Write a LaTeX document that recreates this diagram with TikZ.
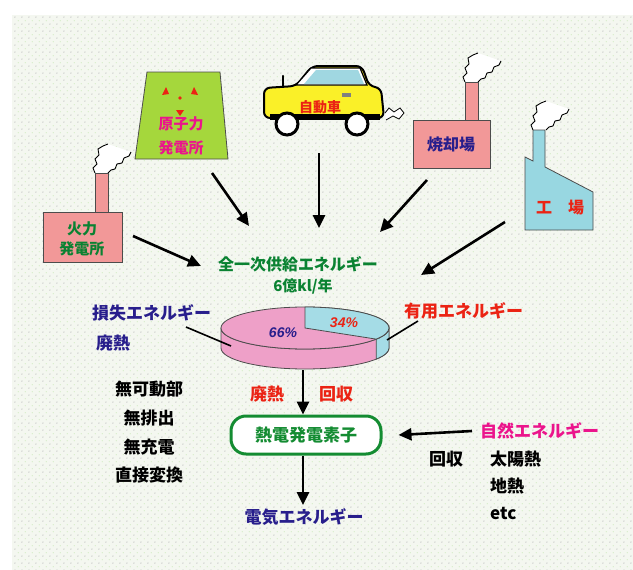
\documentclass[tikz,border=0pt]{standalone}
\usepackage{fontspec}
\setmainfont{Noto Sans CJK JP}
\newfontfamily\latinfont{Liberation Sans}
\usetikzlibrary{arrows.meta,patterns}

\definecolor{bgpale}{RGB}{244,247,240}
\definecolor{dotgray}{RGB}{196,196,196}
\definecolor{dotgreen}{RGB}{210,236,195}
\definecolor{lblgreen}{RGB}{10,130,50}
\definecolor{lblnavy}{RGB}{40,30,140}
\definecolor{lblred}{RGB}{235,35,20}
\definecolor{lblmag}{RGB}{235,20,140}
\definecolor{plantpink}{RGB}{242,152,152}
\definecolor{factblue}{RGB}{152,215,225}
\definecolor{limefill}{RGB}{165,215,60}
\definecolor{caryellow}{RGB}{250,240,40}
\definecolor{carglass}{RGB}{160,215,225}
\definecolor{piepink}{RGB}{238,160,200}
\definecolor{pieblue}{RGB}{165,220,230}
\definecolor{boxgreen}{RGB}{20,140,50}

% sparse dot tiles for the backdrop
\pgfdeclarepatternformonly{bgdotsA}{\pgfpointorigin}{\pgfpoint{7.3pt}{7.3pt}}{\pgfpoint{7.3pt}{7.3pt}}
  {\pgfpathcircle{\pgfpoint{1pt}{1pt}}{0.75pt}\pgfusepath{fill}}
\pgfdeclarepatternformonly{bgdotsB}{\pgfpointorigin}{\pgfpoint{7.3pt}{7.3pt}}{\pgfpoint{7.3pt}{7.3pt}}
  {\pgfpathcircle{\pgfpoint{4.65pt}{4.65pt}}{0.75pt}\pgfusepath{fill}}

\tikzset{
  fs/.style={font=\bfseries\fontsize{#1}{#1}\selectfont},
  lbl/.style={inner sep=0pt, fs=17},
  arr/.style={line width=2.6pt, -{Triangle[length=13pt,width=12pt]}},
  outl/.style={draw=black!70, line width=0.8pt},
  ptr/.style={line width=1.6pt},
  smoke/.pic={
    \fill[white] (0,0) -- (-2,-5) -- (2,-9) -- (0,-14) -- (4,-18) -- (3,-24) -- (8,-27) -- (13,-29)
      -- (36,-21) -- (34,-17) -- (29,-15) -- (27,-10) -- (22,-9) -- (20,-4) -- (16,-3) -- (13,0) -- cycle;
    \draw[line width=0.9pt] (0,0) -- (-2,-5) -- (2,-9) -- (0,-14) -- (4,-18) -- (3,-24) -- (8,-27) -- (13,-29);
    \draw[line width=0.9pt] (13,0) -- (16,-3) -- (20,-4) -- (22,-9) -- (27,-10) -- (29,-15) -- (34,-17) -- (36,-21);
  }
}

\begin{document}
\begin{tikzpicture}[x=1pt,y=-1pt]
\useasboundingbox (0,0) rectangle (633,570);
% dotted backdrop
\fill[bgpale] (12,15) rectangle (633,570);
\fill[pattern=bgdotsA, pattern color=dotgray] (12,15) rectangle (633,570);
\fill[pattern=bgdotsB, pattern color=dotgreen] (12,15) rectangle (633,570);

% ---- thermal power plant
\pic at (95,173) {smoke};
\filldraw[fill=plantpink, outl] (95,173) rectangle (108,213);
\filldraw[fill=plantpink, outl] (43,212) rectangle (122,262);
\node[inner sep=0pt, fs=15, text=lblgreen] (thermA) at (82,229) {火力};
\node[inner sep=0pt, fs=15, text=lblgreen] (thermB) at (82,249) {発電所};

% ---- nuclear power plant
\filldraw[fill=limefill, outl] (147,72) -- (220,72) -- (228,159) -- (135,159) -- cycle;
\fill[lblred] (162,95) -- (166,87) -- (169,94) -- cycle;
\fill[lblred] (191,94) -- (194,87) -- (198,95) -- cycle;
\fill[lblred] (176,110) -- (184,110) -- (180,116) -- cycle;
\fill[lblred] (180,98) circle (1.8);
\node[inner sep=0pt, fs=15, text=lblmag] (nucA) at (181,124) {原子力};
\node[inner sep=0pt, fs=15, text=lblmag] (nucB) at (181,148) {発電所};

% ---- car
\filldraw[fill=caryellow, draw=black, line width=2pt, rounded corners=6pt]
  (264,118) -- (264,88) -- (296,86) -- (312,66) -- (362,66) -- (369,86) -- (381,88) -- (384,118) -- cycle;
\filldraw[fill=white, draw=black, line width=1.2pt] (296,85) -- (311,68) -- (360,68) -- (367,85) -- cycle;
\fill[carglass] (304,84) -- (316,70) -- (358,70) -- (364,84) -- cycle;
\draw[line width=2.5pt, line cap=round] (283,86) -- (283,76);
\fill[gray] (342,93) rectangle (351,97);
\fill[black] (270,114) rectangle (380,120);
\filldraw[fill=white, draw=black, line width=3pt] (287,124) circle (11);
\filldraw[fill=white, draw=black, line width=3pt] (357,124) circle (11);
\fill[white] (385,113) -- (389,108) -- (394,112) -- (400,108) -- (404,113) -- (399,119) -- (393,116) -- (386,120) -- cycle;
\draw[line width=0.8pt] (385,113) -- (389,108) -- (394,112) -- (400,108) -- (404,113);
\draw[line width=0.8pt] (386,120) -- (393,116) -- (399,119) -- (404,113);
\node[inner sep=0pt, fs=14, text=lblred] (carT) at (320,107) {自動車};

% ---- incineration plant
\pic at (465,82) {smoke};
\filldraw[fill=plantpink, outl] (465,82) rectangle (478,121);
\filldraw[fill=plantpink, outl] (413,120) rectangle (490,168);
\node[inner sep=0pt, fs=16, text=lblnavy] (incT) at (451,144) {焼却場};

% ---- factory
\pic at (533,130) {smoke};
\filldraw[fill=factblue, outl] (525,230) -- (525,157) -- (533,161) -- (533,130) -- (545,130)
  -- (545,167) -- (593,192) -- (593,230) -- cycle;
\node[inner sep=0pt, fs=16, text=lblred] (factT) at (560,208) {工　場};

% ---- arrows into the energy supply
\coordinate (a1s) at (133,236); \coordinate (a1e) at (201,266);
\coordinate (a2s) at (212,173); \coordinate (a2e) at (249,226);
\coordinate (a3s) at (319,153); \coordinate (a3e) at (319,228);
\coordinate (a4s) at (427,180); \coordinate (a4e) at (380,232);
\coordinate (a5s) at (505,222); \coordinate (a5e) at (421,275);
\draw[arr] (a1s) -- (a1e);
\draw[arr] (a2s) -- (a2e);
\draw[arr] (a3s) -- (a3e);
\draw[arr] (a4s) -- (a4e);
\draw[arr] (a5s) -- (a5e);

\node[inner sep=0pt, fs=16, text=lblgreen] (total) at (298,264) {全一次供給エネルギー};
\node[inner sep=0pt, fs=15, text=lblgreen] (totalB) at (303,286) {6億kl/年};

% ---- pie (cylinder)
\filldraw[fill=piepink, outl] (221,328) -- (221,348) arc[start angle=180, end angle=0, x radius=84, y radius=21]
  -- (389,328) arc[start angle=0, end angle=180, x radius=84, y radius=21] -- cycle;
\filldraw[fill=pieblue, outl] (389,328) -- (389,348) arc[start angle=0, end angle=32, x radius=84, y radius=21]
  -- ++(0,-20) arc[start angle=32, end angle=0, x radius=84, y radius=21] -- cycle;
\filldraw[fill=piepink, outl] (305,328) ellipse[x radius=84, y radius=21];
\filldraw[fill=pieblue, outl] (305,328) -- (305,307) arc[start angle=-90, end angle=32, x radius=84, y radius=21] -- cycle;
\node[inner sep=0pt, text=lblnavy, font=\latinfont\bfseries\itshape\fontsize{14}{14}\selectfont] (p66) at (283,333) {66\%};
\node[inner sep=0pt, text=lblred, font=\latinfont\bfseries\itshape\fontsize{14}{14}\selectfont] (p34) at (344,323) {34\%};

\node[lbl, text=lblnavy, anchor=west] (loss) at (92,313) {損失エネルギー};
\node[lbl, text=lblnavy, anchor=west] (lossB) at (96,343) {廃熱};
\coordinate (lossP) at (186,327); \coordinate (lossQ) at (231,346);
\draw[ptr] (lossP) -- (lossQ);
\node[lbl, text=lblred, anchor=west] (useful) at (404,311) {有用エネルギー};
\coordinate (usefulP) at (418,321); \coordinate (usefulQ) at (387,340);
\draw[ptr] (usefulP) -- (usefulQ);

% ---- thermoelectric element
\node[lbl, draw=boxgreen, fill=white, line width=3pt, rounded corners=15pt, minimum width=150pt, minimum height=38pt,
      text=boxgreen] (te) at (306,435) {熱電発電素子};
\coordinate (pieBase) at (303,370);
\draw[arr] (pieBase) -- (pieBase |- te.north);
\node[lbl, text=lblred] (wasteHeat) at (267,394) {廃熱};
\node[lbl, text=lblred] (recov) at (336,394) {回収};

\node[lbl, text=lblnavy] (elec) at (304,517) {電気エネルギー};
\coordinate (elecTop) at (303,505);
\draw[arr] (pieBase |- te.south) -- (elecTop);

% ---- merits
\node[lbl] (m1) at (149,389) {無可動部};
\node[lbl] (m2) at (149,418) {無排出};
\node[lbl] (m3) at (149,447) {無充電};
\node[lbl] (m4) at (149,475) {直接変換};

% ---- natural energy
\node[lbl, text=lblmag, anchor=west] (natural) at (480,431) {自然エネルギー};
\draw[arr] ([xshift=-8pt]natural.west) -- ([xshift=16pt]te.east);
\node[lbl] (recovB) at (446,459) {回収};
\node[lbl, anchor=west] (solar) at (490,459) {太陽熱};
\node[lbl, anchor=west] (geo) at (490,486) {地熱};
\node[lbl, anchor=west] (etc) at (490,513) {etc};
\end{tikzpicture}
\end{document}
